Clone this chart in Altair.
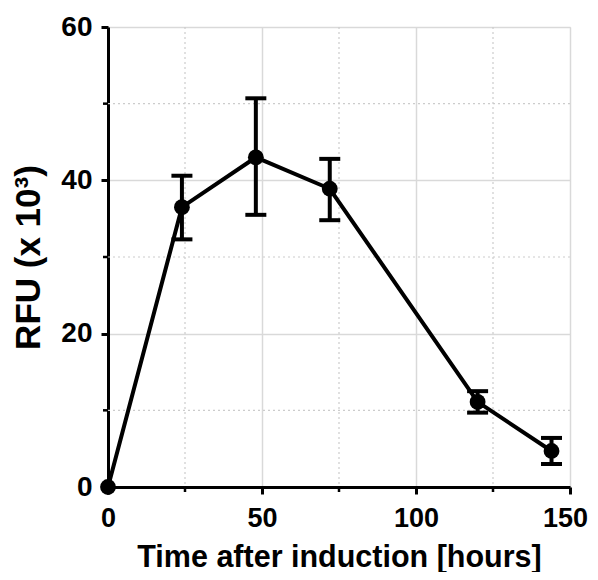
import altair as alt
import pandas as pd

hours = [0, 24, 48, 72, 120, 144]
rfu = [0, 36.5, 43.0, 38.9, 11.1, 4.7]
err_hi = [0, 40.6, 50.7, 42.8, 12.5, 6.4]
err_lo = [0, 32.3, 35.5, 34.8, 9.7, 3.0]

x_major = [0, 50, 100, 150]
y_major = [0, 20, 40, 60]
x_minor = [25, 75, 125]
y_minor = [10, 30, 50]

df = pd.DataFrame({"h": hours, "v": rfu, "hi": err_hi, "lo": err_lo})
df_err = df[df["h"] > 0]
dfx = pd.DataFrame({"m": x_minor})
dfy = pd.DataFrame({"m": y_minor})

FONT = "Liberation Sans"
W, H = 462, 460

xs = alt.Scale(domain=[0, 150], nice=False, zero=False)
ys = alt.Scale(domain=[0, 60], nice=False, zero=False)

xax = alt.Axis(values=x_major, title="Time after induction [hours]", format="d",
               labelFontSize=27, labelFontWeight="bold", labelFont=FONT, labelColor="black",
               titleFontSize=30.5, titleFontWeight="bold", titleFont=FONT, titleColor="black",
               tickSize=7, tickWidth=3, tickColor="black", domainColor="black", domainWidth=3,
               labelPadding=11, titlePadding=11, grid=True, gridColor="#d9d9d9", gridWidth=1.5,
               labelFlush=False,
               labelOffset={"condition": {"test": "datum.value == 150", "value": -5}, "value": 0})
yax = alt.Axis(values=y_major, title="RFU (x 10³)", format="d",
               labelFontSize=28, labelFontWeight="bold", labelFont=FONT, labelColor="black",
               titleFontSize=35, titleFontWeight="bold", titleFont=FONT, titleColor="black",
               tickSize=7, tickWidth=3, tickColor="black", domainColor="black", domainWidth=3,
               labelPadding=9, titlePadding=14, grid=True, gridColor="#d9d9d9", gridWidth=1.5,
               labelFlush=False)

base = alt.Chart(df)

minor_gx = alt.Chart(dfx).mark_rule(color="#cccccc", strokeWidth=1.2, strokeDash=[2, 3]).encode(
    x=alt.X("m:Q", scale=xs, axis=xax))
minor_gy = alt.Chart(dfy).mark_rule(color="#cccccc", strokeWidth=1.2, strokeDash=[2, 3]).encode(
    y=alt.Y("m:Q", scale=ys, axis=yax))

line = base.mark_line(color="black", strokeWidth=4).encode(
    x=alt.X("h:Q", scale=xs, axis=xax), y=alt.Y("v:Q", scale=ys, axis=yax))
bars = alt.Chart(df_err).mark_rule(color="black", strokeWidth=4).encode(
    x=alt.X("h:Q", scale=xs), y=alt.Y("lo:Q", scale=ys), y2="hi:Q")
cap_hi = alt.Chart(df_err).mark_tick(color="black", size=21, thickness=4, orient="horizontal",
                                     opacity=1).encode(
    x=alt.X("h:Q", scale=xs), y=alt.Y("hi:Q", scale=ys))
cap_lo = alt.Chart(df_err).mark_tick(color="black", size=21, thickness=4, orient="horizontal",
                                     opacity=1).encode(
    x=alt.X("h:Q", scale=xs), y=alt.Y("lo:Q", scale=ys))
pts = base.mark_circle(color="black", size=250, opacity=1).encode(
    x=alt.X("h:Q", scale=xs), y=alt.Y("v:Q", scale=ys))

mtx = alt.Chart(dfx).mark_rule(color="black", strokeWidth=2.5).encode(
    x=alt.X("m:Q", scale=xs), y=alt.value(H), y2=alt.value(H + 5))
mty = alt.Chart(dfy).mark_rule(color="black", strokeWidth=2.5).encode(
    y=alt.Y("m:Q", scale=ys), x=alt.value(-5), x2=alt.value(0))

chart = alt.layer(minor_gx, minor_gy, line, bars, cap_hi, cap_lo, pts, mtx, mty).properties(
    width=W, height=H,
    autosize=alt.AutoSizeParams(type="none"),
    padding={"left": 100, "top": 19, "right": 20, "bottom": 85},
).configure_view(stroke="black", strokeWidth=3).configure(background="white")

chart.save("out.html", embed_options={"renderer": "svg", "actions": False})
